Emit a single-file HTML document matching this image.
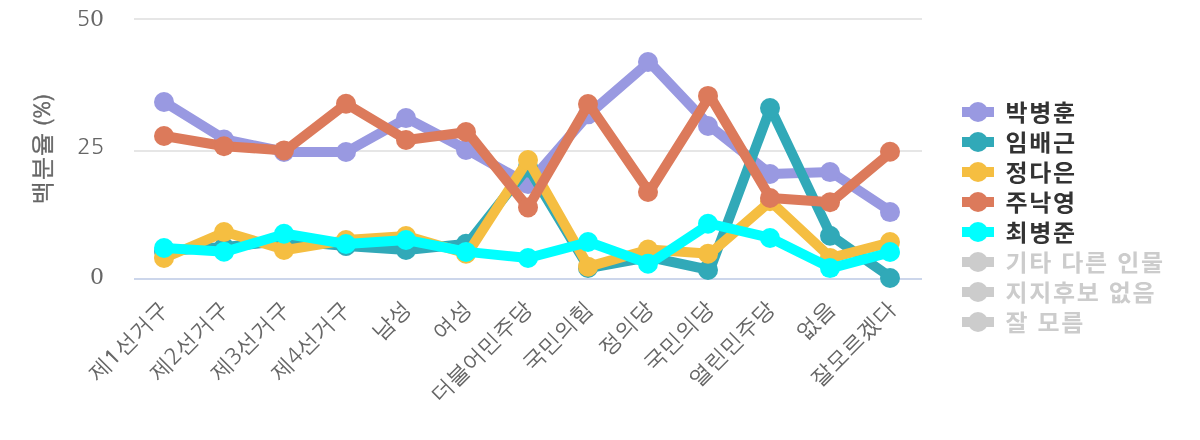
<!DOCTYPE html>
<html lang="ko">
<head>
<meta charset="utf-8">
<title>백분율 (%)</title>
<style>
html,body{margin:0;padding:0;background:#fff;}
body{width:1200px;height:440px;overflow:hidden;}
svg{display:block;}
.ax{font-family:"WenQuanYi Zen Hei", "NanumGothic", sans-serif;font-size:22px;fill:#666666;}
.lg{font-family:"Noto Sans CJK KR", "NanumGothic", sans-serif;font-size:23.2px;font-weight:bold;fill:#333333;letter-spacing:1.64px;}
.lgh{font-family:"Noto Sans CJK KR", "NanumGothic", sans-serif;font-size:23.2px;font-weight:bold;fill:#cccccc;letter-spacing:1.64px;}
.ng{font-family:"NanumGothic","Liberation Sans",sans-serif;}
.ls{font-family:"NanumGothic","Liberation Sans",sans-serif;font-size:20px;stroke:#666666;stroke-width:0.7px;}
.sr{font-family:"DejaVu Serif","Liberation Serif",serif;stroke:none;}
</style>
</head>
<body>
<svg width="1200" height="440" viewBox="0 0 1200 440">
<rect x="0" y="0" width="1200" height="440" fill="#ffffff"/>
<g stroke="#e6e6e6" stroke-width="2" fill="none">
<path d="M 134.0 19 L 922.0 19"/>
<path d="M 134.0 151 L 922.0 151"/>
</g>
<path d="M 134.0 279 L 922.0 279" stroke="#ccd6eb" stroke-width="2" fill="none"/>
<g>
<path d="M 164.31 102.00 L 224.92 139.50 L 285.54 151.90 L 346.15 152.00 L 406.77 118.10 L 467.38 150.00 L 528.00 184.00 L 588.62 114.35 L 649.23 62.00 L 709.85 126.00 L 770.46 174.00 L 831.08 172.10 L 891.69 212.10" fill="none" stroke="#9999e1" stroke-width="10" stroke-linejoin="round" stroke-linecap="round"/>
<circle cx="164" cy="102.00" r="10" fill="#9999e1"/>
<circle cx="224" cy="139.50" r="10" fill="#9999e1"/>
<circle cx="284" cy="151.90" r="10" fill="#9999e1"/>
<circle cx="346" cy="152.00" r="10" fill="#9999e1"/>
<circle cx="406" cy="118.10" r="10" fill="#9999e1"/>
<circle cx="466" cy="150.00" r="10" fill="#9999e1"/>
<circle cx="528" cy="184.00" r="10" fill="#9999e1"/>
<circle cx="588" cy="114.35" r="10" fill="#9999e1"/>
<circle cx="648" cy="62.00" r="10" fill="#9999e1"/>
<circle cx="708" cy="126.00" r="10" fill="#9999e1"/>
<circle cx="770" cy="174.00" r="10" fill="#9999e1"/>
<circle cx="830" cy="172.10" r="10" fill="#9999e1"/>
<circle cx="890" cy="212.10" r="10" fill="#9999e1"/>
</g>
<g>
<path d="M 164.31 251.00 L 224.92 247.00 L 285.54 240.50 L 346.15 245.90 L 406.77 250.00 L 467.38 243.75 L 528.00 167.50 L 588.62 268.00 L 649.23 257.00 L 709.85 270.00 L 770.46 108.10 L 831.08 235.70 L 891.69 278.00" fill="none" stroke="#31a9b8" stroke-width="10" stroke-linejoin="round" stroke-linecap="round"/>
<circle cx="164" cy="251.00" r="10" fill="#31a9b8"/>
<circle cx="224" cy="247.00" r="10" fill="#31a9b8"/>
<circle cx="284" cy="240.50" r="10" fill="#31a9b8"/>
<circle cx="346" cy="245.90" r="10" fill="#31a9b8"/>
<circle cx="406" cy="250.00" r="10" fill="#31a9b8"/>
<circle cx="466" cy="243.75" r="10" fill="#31a9b8"/>
<circle cx="528" cy="167.50" r="10" fill="#31a9b8"/>
<circle cx="588" cy="268.00" r="10" fill="#31a9b8"/>
<circle cx="648" cy="257.00" r="10" fill="#31a9b8"/>
<circle cx="708" cy="270.00" r="10" fill="#31a9b8"/>
<circle cx="770" cy="108.10" r="10" fill="#31a9b8"/>
<circle cx="830" cy="235.70" r="10" fill="#31a9b8"/>
<circle cx="890" cy="278.00" r="10" fill="#31a9b8"/>
</g>
<g>
<path d="M 164.31 258.00 L 224.92 232.00 L 285.54 250.00 L 346.15 240.10 L 406.77 236.00 L 467.38 253.80 L 528.00 160.00 L 588.62 266.65 L 649.23 249.50 L 709.85 253.75 L 770.46 201.30 L 831.08 257.90 L 891.69 242.10" fill="none" stroke="#f5be41" stroke-width="10" stroke-linejoin="round" stroke-linecap="round"/>
<circle cx="164" cy="258.00" r="10" fill="#f5be41"/>
<circle cx="224" cy="232.00" r="10" fill="#f5be41"/>
<circle cx="284" cy="250.00" r="10" fill="#f5be41"/>
<circle cx="346" cy="240.10" r="10" fill="#f5be41"/>
<circle cx="406" cy="236.00" r="10" fill="#f5be41"/>
<circle cx="466" cy="253.80" r="10" fill="#f5be41"/>
<circle cx="528" cy="160.00" r="10" fill="#f5be41"/>
<circle cx="588" cy="266.65" r="10" fill="#f5be41"/>
<circle cx="648" cy="249.50" r="10" fill="#f5be41"/>
<circle cx="708" cy="253.75" r="10" fill="#f5be41"/>
<circle cx="770" cy="201.30" r="10" fill="#f5be41"/>
<circle cx="830" cy="257.90" r="10" fill="#f5be41"/>
<circle cx="890" cy="242.10" r="10" fill="#f5be41"/>
</g>
<g>
<path d="M 164.31 136.05 L 224.92 146.25 L 285.54 150.40 L 346.15 103.75 L 406.77 140.00 L 467.38 132.00 L 528.00 207.50 L 588.62 104.00 L 649.23 192.00 L 709.85 95.90 L 770.46 198.00 L 831.08 202.20 L 891.69 151.75" fill="none" stroke="#dc7a5b" stroke-width="10" stroke-linejoin="round" stroke-linecap="round"/>
<circle cx="164" cy="136.05" r="10" fill="#dc7a5b"/>
<circle cx="224" cy="146.25" r="10" fill="#dc7a5b"/>
<circle cx="284" cy="150.40" r="10" fill="#dc7a5b"/>
<circle cx="346" cy="103.75" r="10" fill="#dc7a5b"/>
<circle cx="406" cy="140.00" r="10" fill="#dc7a5b"/>
<circle cx="466" cy="132.00" r="10" fill="#dc7a5b"/>
<circle cx="528" cy="207.50" r="10" fill="#dc7a5b"/>
<circle cx="588" cy="104.00" r="10" fill="#dc7a5b"/>
<circle cx="648" cy="192.00" r="10" fill="#dc7a5b"/>
<circle cx="708" cy="95.90" r="10" fill="#dc7a5b"/>
<circle cx="770" cy="198.00" r="10" fill="#dc7a5b"/>
<circle cx="830" cy="202.20" r="10" fill="#dc7a5b"/>
<circle cx="890" cy="151.75" r="10" fill="#dc7a5b"/>
</g>
<g>
<path d="M 164.31 248.00 L 224.92 251.75 L 285.54 233.75 L 346.15 244.00 L 406.77 240.00 L 467.38 251.90 L 528.00 258.00 L 588.62 242.00 L 649.23 263.75 L 709.85 223.75 L 770.46 238.00 L 831.08 268.10 L 891.69 252.00" fill="none" stroke="#00ffff" stroke-width="10" stroke-linejoin="round" stroke-linecap="round"/>
<circle cx="164" cy="248.00" r="10" fill="#00ffff"/>
<circle cx="224" cy="251.75" r="10" fill="#00ffff"/>
<circle cx="284" cy="233.75" r="10" fill="#00ffff"/>
<circle cx="346" cy="244.00" r="10" fill="#00ffff"/>
<circle cx="406" cy="240.00" r="10" fill="#00ffff"/>
<circle cx="466" cy="251.90" r="10" fill="#00ffff"/>
<circle cx="528" cy="258.00" r="10" fill="#00ffff"/>
<circle cx="588" cy="242.00" r="10" fill="#00ffff"/>
<circle cx="648" cy="263.75" r="10" fill="#00ffff"/>
<circle cx="708" cy="223.75" r="10" fill="#00ffff"/>
<circle cx="770" cy="238.00" r="10" fill="#00ffff"/>
<circle cx="830" cy="268.10" r="10" fill="#00ffff"/>
<circle cx="890" cy="252.00" r="10" fill="#00ffff"/>
</g>
<g class="ax" text-anchor="end">
<text x="104" y="26"><tspan class="ng">5</tspan><tspan class="sr">0</tspan></text>
<text x="104" y="154"><tspan class="ng">25</tspan></text>
<text x="104" y="284"><tspan class="sr">0</tspan></text>
</g>
<text class="ax" style="font-size:24px;stroke:#666666;stroke-width:0.35px" text-anchor="middle" transform="translate(50.4,149.4) rotate(270)">백분율 (%)</text>
<g class="ax" text-anchor="end">
<text transform="translate(169.31,310) rotate(-45)">제<tspan class="ls" dx="0.3">1</tspan><tspan dx="1.4">선거구</tspan></text>
<text transform="translate(229.92,310) rotate(-45)">제<tspan class="ng">2</tspan>선거구</text>
<text transform="translate(290.54,310) rotate(-45)">제<tspan class="ng">3</tspan>선거구</text>
<text transform="translate(351.15,310) rotate(-45)">제<tspan class="ng">4</tspan>선거구</text>
<text transform="translate(411.77,310) rotate(-45)">남성</text>
<text transform="translate(472.38,310) rotate(-45)">여성</text>
<text transform="translate(533.00,310) rotate(-45)">더불어민주당</text>
<text transform="translate(593.62,310) rotate(-45)">국민의힘</text>
<text transform="translate(654.23,310) rotate(-45)">정의당</text>
<text transform="translate(714.85,310) rotate(-45)">국민의당</text>
<text transform="translate(775.46,310) rotate(-45)">열린민주당</text>
<text transform="translate(836.08,310) rotate(-45)">없음</text>
<text transform="translate(896.69,310) rotate(-45)">잘모르겠다</text>
</g>
<g>
<path d="M 962 112 L 994 112" stroke="#9999e1" stroke-width="10" fill="none"/>
<circle cx="978" cy="112" r="10" fill="#9999e1"/>
<text class="lg" transform="translate(1005.4,121.1) scale(1.034,1)">박병훈</text>
</g>
<g>
<path d="M 962 142 L 994 142" stroke="#31a9b8" stroke-width="10" fill="none"/>
<circle cx="978" cy="142" r="10" fill="#31a9b8"/>
<text class="lg" transform="translate(1005.4,151.1) scale(1.034,1)">임배근</text>
</g>
<g>
<path d="M 962 172 L 994 172" stroke="#f5be41" stroke-width="10" fill="none"/>
<circle cx="978" cy="172" r="10" fill="#f5be41"/>
<text class="lg" transform="translate(1005.4,181.1) scale(1.034,1)">정다은</text>
</g>
<g>
<path d="M 962 202 L 994 202" stroke="#dc7a5b" stroke-width="10" fill="none"/>
<circle cx="978" cy="202" r="10" fill="#dc7a5b"/>
<text class="lg" transform="translate(1005.4,211.1) scale(1.034,1)">주낙영</text>
</g>
<g>
<path d="M 962 232 L 994 232" stroke="#00ffff" stroke-width="10" fill="none"/>
<circle cx="978" cy="232" r="10" fill="#00ffff"/>
<text class="lg" transform="translate(1005.4,241.1) scale(1.034,1)">최병준</text>
</g>
<g>
<path d="M 962 262 L 994 262" stroke="#cccccc" stroke-width="10" fill="none"/>
<circle cx="978" cy="262" r="10" fill="#cccccc"/>
<text class="lgh" transform="translate(1005.4,271.1) scale(1.034,1)">기타 다른 인물</text>
</g>
<g>
<path d="M 962 292 L 994 292" stroke="#cccccc" stroke-width="10" fill="none"/>
<circle cx="978" cy="292" r="10" fill="#cccccc"/>
<text class="lgh" transform="translate(1005.4,301.1) scale(1.034,1)">지지후보 없음</text>
</g>
<g>
<path d="M 962 322 L 994 322" stroke="#cccccc" stroke-width="10" fill="none"/>
<circle cx="978" cy="322" r="10" fill="#cccccc"/>
<text class="lgh" transform="translate(1005.4,331.1) scale(1.034,1)">잘 모름</text>
</g>
</svg>
</body>
</html>
